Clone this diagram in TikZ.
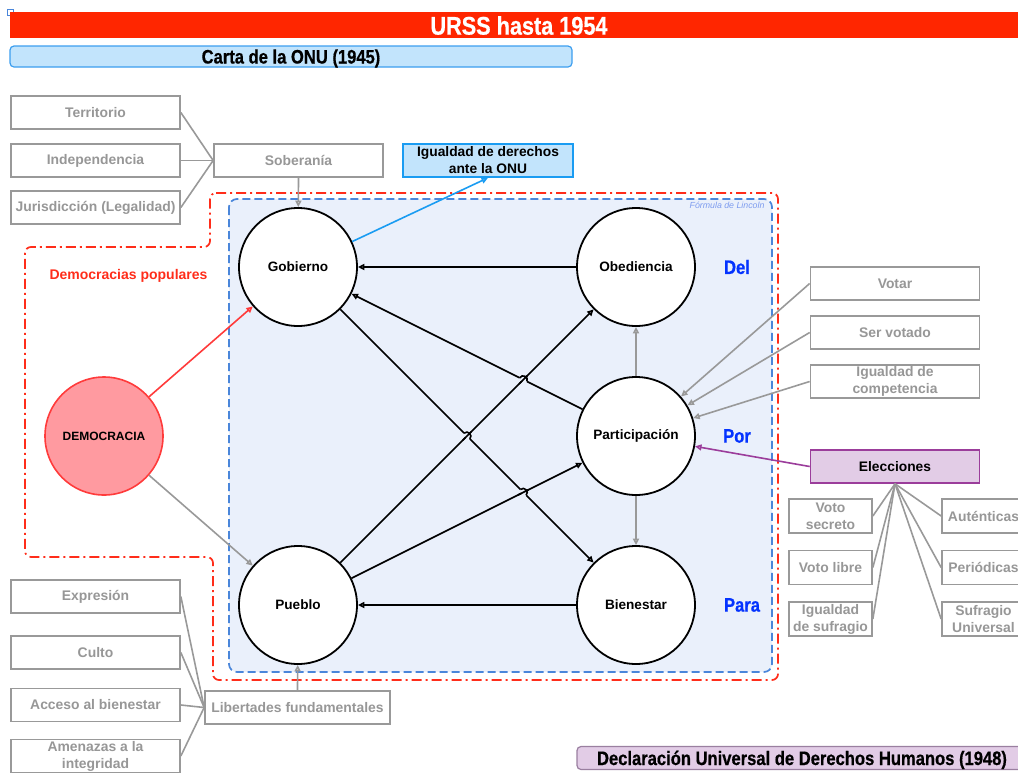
\documentclass[tikz,border=0pt]{standalone}
\usepackage{fontspec}
\setmainfont{Liberation Sans}
\newfontfamily\condfont{Liberation Sans}[FakeStretch=0.85,FakeBold=0.6]
\usetikzlibrary{arrows.meta,intersections,calc}

\definecolor{banner}{HTML}{FF2600}
\definecolor{grayline}{HTML}{999999}
\definecolor{graytext}{HTML}{979797}
\definecolor{lblue}{HTML}{C2E4FC}
\definecolor{lbluedraw}{HTML}{3C9EEF}
\definecolor{igdraw}{HTML}{1A9CF2}
\definecolor{zonefill}{HTML}{EAF0FB}
\definecolor{zonedraw}{HTML}{4A86DA}
\definecolor{redzone}{HTML}{FF2D1A}
\definecolor{demfill}{HTML}{FF9AA0}
\definecolor{demdraw}{HTML}{FF3B3B}
\definecolor{lpurple}{HTML}{E2CCE6}
\definecolor{purpledraw}{HTML}{9B3D9B}
\definecolor{declardraw}{HTML}{9A7FA0}
\definecolor{prepblue}{HTML}{0433FF}
\definecolor{lincoln}{HTML}{7D9BEF}

\tikzset{
  graybox/.style={draw=grayline, line width=1.7pt, fill=white, text=graytext,
    font=\fontsize{13.9}{17}\selectfont\bfseries, minimum width=169pt,
    minimum height=33pt, inner sep=0pt, align=center},
  smallbox/.style={graybox, minimum width=83pt, minimum height=34pt},
  circ/.style={circle, draw=black, line width=1.8pt, fill=white,
    minimum size=118pt, inner sep=0pt, font=\fontsize{13.6}{16}\selectfont\bfseries},
  link/.style={line width=1.6pt, -{Triangle[length=6.5pt,width=6pt,fill=white]}},
  grayarrow/.style={link, draw=grayline},
  plain/.style={draw=grayline, line width=1.6pt},
  condtext/.style={font=\condfont\bfseries\fontsize{19.5}{22}\selectfont},
  prep/.style={condtext, text=prepblue},
  hop/.style={line width=1.6pt},
  gap/.style={draw=zonefill, line width=3.6pt},
}

\begin{document}
\begin{tikzpicture}[x=1pt,y=-1pt]
\useasboundingbox (0,0) rectangle (1018,772);

% small marker in the corner
\draw[zonedraw, line width=0.9pt] (7,9) rectangle (13,15);

% title banner
\fill[banner] (10,12) rectangle (1030,38);
\node[font=\condfont\bfseries\fontsize{25.5}{28}\selectfont, text=white] (title) at (519,25.5) {URSS hasta 1954};

% headers
\node[draw=lbluedraw, fill=lblue, line width=1.2pt, rounded corners=4pt,
      minimum width=562pt, minimum height=21pt, inner sep=0pt,
      text height=14pt, text depth=0pt, condtext] (carta) at (291,56.5) {Carta de la ONU (1945)};
\node[draw=declardraw, fill=lpurple, line width=1.2pt, rounded corners=4pt,
      minimum width=450pt, minimum height=23pt, inner sep=0pt,
      text height=14pt, text depth=0pt, condtext] (decl) at (802,758) {Declaración Universal de Derechos Humanos (1948)};

% dash-dotted region of the popular democracies
\draw[redzone, line width=1.7pt, rounded corners=6pt,
      dash pattern=on 10pt off 4pt on 2pt off 4pt]
  (210,193) -- (778,193) -- (778,680) -- (213,680) -- (213,557) -- (25,557)
  -- (25,247) -- (210,247) -- cycle;
\node[text=redzone, font=\fontsize{14}{16}\selectfont\bfseries] (dp) at (128.5,276) {Democracias populares};

% Lincoln formula zone
\draw[zonedraw, fill=zonefill, line width=1.7pt, rounded corners=8pt,
      dash pattern=on 8pt off 4pt] (229,199) rectangle (772,672);
\node[anchor=east, text=lincoln, font=\fontsize{8.8}{10}\selectfont\itshape] (lin) at (768,205.5) {Fórmula de Lincoln};

% circles
\node[circ] (go) at (298,267) {Gobierno};
\node[circ] (ob) at (636,267) {Obediencia};
\node[circ] (pa) at (636,436) {Participación};
\node[circ] (pu) at (298,605) {Pueblo};
\node[circ] (bi) at (636,605) {Bienestar};
\node[circle, draw=demdraw, fill=demfill, line width=1.6pt, minimum size=118pt,
      inner sep=0pt, font=\fontsize{12}{14}\selectfont\bfseries] (dem) at (104,436) {DEMOCRACIA};

\node[prep] (del) at (737,267) {Del};
\node[prep] (por) at (737,436) {Por};
\node[prep] (para) at (742,605) {Para};

% sovereignty
\node[graybox] (te) at (95.5,112.5) {Territorio};
\node[graybox] (in) at (95.5,160.5) {Independencia};
\node[graybox] (ju) at (95.5,207.5) {Jurisdicción (Legalidad)};
\node[graybox] (so) at (298.5,160.5) {Soberanía};
\draw[plain] (te.east) -- (so.west);
\draw[plain] (in.east) -- (so.west);
\draw[plain] (ju.east) -- (so.west);
\draw[grayarrow] (so.south) -- (go);

\node[draw=igdraw, fill=lblue, line width=1.6pt, minimum width=170pt, minimum height=33pt,
      inner sep=0pt, align=center, font=\fontsize{13.8}{17}\selectfont\bfseries] (ig) at (488,160.5)
      {Igualdad de derechos\\ante la ONU};
\draw[link, draw=igdraw] (go) -- (ig.south);

% fundamental freedoms
\node[graybox] (ex) at (95.5,596.5) {Expresión};
\node[graybox] (cu) at (95.5,652.5) {Culto};
\node[graybox] (ac) at (95.5,705) {Acceso al bienestar};
\node[graybox] (am) at (95.5,756) {Amenazas a la\\integridad};
\node[graybox, minimum width=185pt] (li) at (297.5,707.5) {Libertades fundamentales};
\draw[plain] (ex.east) -- (li.west);
\draw[plain] (cu.east) -- (li.west);
\draw[plain] (ac.east) -- (li.west);
\draw[plain] (am.east) -- (li.west);
\draw[grayarrow] (li.north) -- (pu);

% participation
\node[graybox] (vo) at (895,283.5) {Votar};
\node[graybox] (sv) at (895,332.5) {Ser votado};
\node[graybox] (ic) at (895,381.5) {Igualdad de\\competencia};
\node[draw=purpledraw, fill=lpurple, line width=1.6pt, minimum width=169pt, minimum height=33pt,
      inner sep=0pt, font=\fontsize{13.8}{17}\selectfont\bfseries] (el) at (895,466.5) {Elecciones};
\draw[grayarrow] (vo.west) -- (pa);
\draw[grayarrow] (sv.west) -- (pa);
\draw[grayarrow] (ic.west) -- (pa);
\draw[link, draw=purpledraw] (el.west) -- (pa);

\node[smallbox] (vs) at (830.5,516) {Voto\\secreto};
\node[smallbox] (vl) at (830.5,567.5) {Voto libre};
\node[smallbox] (is) at (830.5,619) {Igualdad\\de sufragio};
\node[smallbox] (au) at (983.5,516) {Auténticas};
\node[smallbox] (pe) at (983.5,567.5) {Periódicas};
\node[smallbox] (su) at (983.5,619) {Sufragio\\Universal};
\foreach \b in {vs,vl,is} \draw[plain] (el.south) -- (\b.east);
\foreach \b in {au,pe,su} \draw[plain] (el.south) -- (\b.west);

% democracy
\draw[link, draw=demdraw] (dem) -- (go);
\draw[grayarrow] (dem) -- (pu);

% relations between the circles
\draw[grayarrow] (pa) -- (ob);
\draw[grayarrow] (pa) -- (bi);
\draw[link] (ob) -- (go);
\draw[link] (bi) -- (pu);
\draw[link, name path=l1] (pu) -- (ob);
\draw[link, name path=l2] (pu) -- (pa);
\draw[link, name path=l3] (pa) -- (go);
\draw[link, name path=l4] (go) -- (bi);

\path[name intersections={of=l3 and l1, by={x31}}];
\path[name intersections={of=l4 and l1, by={x41}}];
\path[name intersections={of=l4 and l2, by={x42}}];

% line jumps
\draw[gap] ($(x31)!4pt!(pa)$) -- ($(x31)!4pt!(go)$);
\draw[hop] ($(x31)!6pt!(pu)$) -- ($(x31)!6pt!(ob)$);
\draw[hop] ($(x31)!4pt!(pa)$) to[bend right=90, looseness=1.6] ($(x31)!4pt!(go)$);

\draw[gap] ($(x41)!4pt!(go)$) -- ($(x41)!4pt!(bi)$);
\draw[hop] ($(x41)!6pt!(pu)$) -- ($(x41)!6pt!(ob)$);
\draw[hop] ($(x41)!4pt!(go)$) to[bend left=90, looseness=1.6] ($(x41)!4pt!(bi)$);

\draw[gap] ($(x42)!4pt!(go)$) -- ($(x42)!4pt!(bi)$);
\draw[hop] ($(x42)!6pt!(pu)$) -- ($(x42)!6pt!(pa)$);
\draw[hop] ($(x42)!4pt!(go)$) to[bend left=90, looseness=1.6] ($(x42)!4pt!(bi)$);
\end{tikzpicture}
\end{document}
